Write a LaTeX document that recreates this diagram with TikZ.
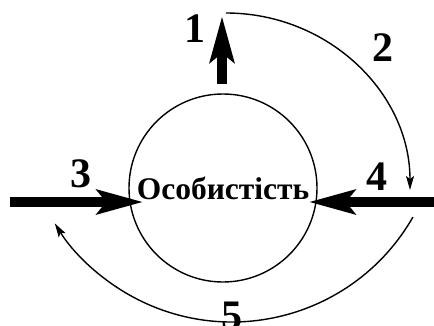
\documentclass[tikz,border=0pt]{standalone}
\usepackage{fontspec}
\setmainfont{Liberation Serif}
\usetikzlibrary{arrows.meta}
\begin{document}
\begin{tikzpicture}[x=1pt,y=1pt,
  bigarrow/.style={line width=10pt,-{Stealth[length=46pt,width=24pt,inset=9pt]}},
  thinarc/.style={line width=1.4pt,-{Stealth[length=14pt,width=8pt,inset=3pt]}},
  numlabel/.style={inner sep=0pt,font=\fontsize{42}{44}\selectfont\bfseries},
  ]
\useasboundingbox (0,0) rectangle (434,325);
\node[draw,circle,line width=1.4pt,minimum size=188pt,inner sep=0pt,
  font=\fontsize{31.5}{34}\selectfont\bfseries] (c) at (223,137) {Особистість};
% arrow 1
\coordinate (a1s) at (222,241);
\coordinate (a1e) at (222,309);
\draw[bigarrow] (a1s) -- (a1e);
% arrow 3
\coordinate (a3s) at (10,123);
\draw[bigarrow] (a3s) -- ([xshift=15pt]c.west |- a3s);
% arrow 4
\coordinate (a4s) at (434,123);
\draw[bigarrow] (a4s) -- ([xshift=-9pt]c.east |- a4s);
% arc 2
\coordinate (b2s) at (226,312);
\draw[thinarc] (b2s) arc[start angle=90,end angle=0,x radius=184,y radius=177];
% arc 5
\coordinate (b5c) at (232,211.5);
\draw[thinarc] ([shift={(-29.8:208.5)}]b5c) arc[start angle=-29.8,end angle=-148.2,radius=208.5];
% labels
\node[numlabel] (n1) at (195,296) {1};
\node[numlabel] (n2) at (383,277) {2};
\node[numlabel] (n3) at (81,151) {3};
\node[numlabel] (n4) at (377,148) {4};
\node[numlabel] (n5) at (232,9) {5};
\end{tikzpicture}
\end{document}
